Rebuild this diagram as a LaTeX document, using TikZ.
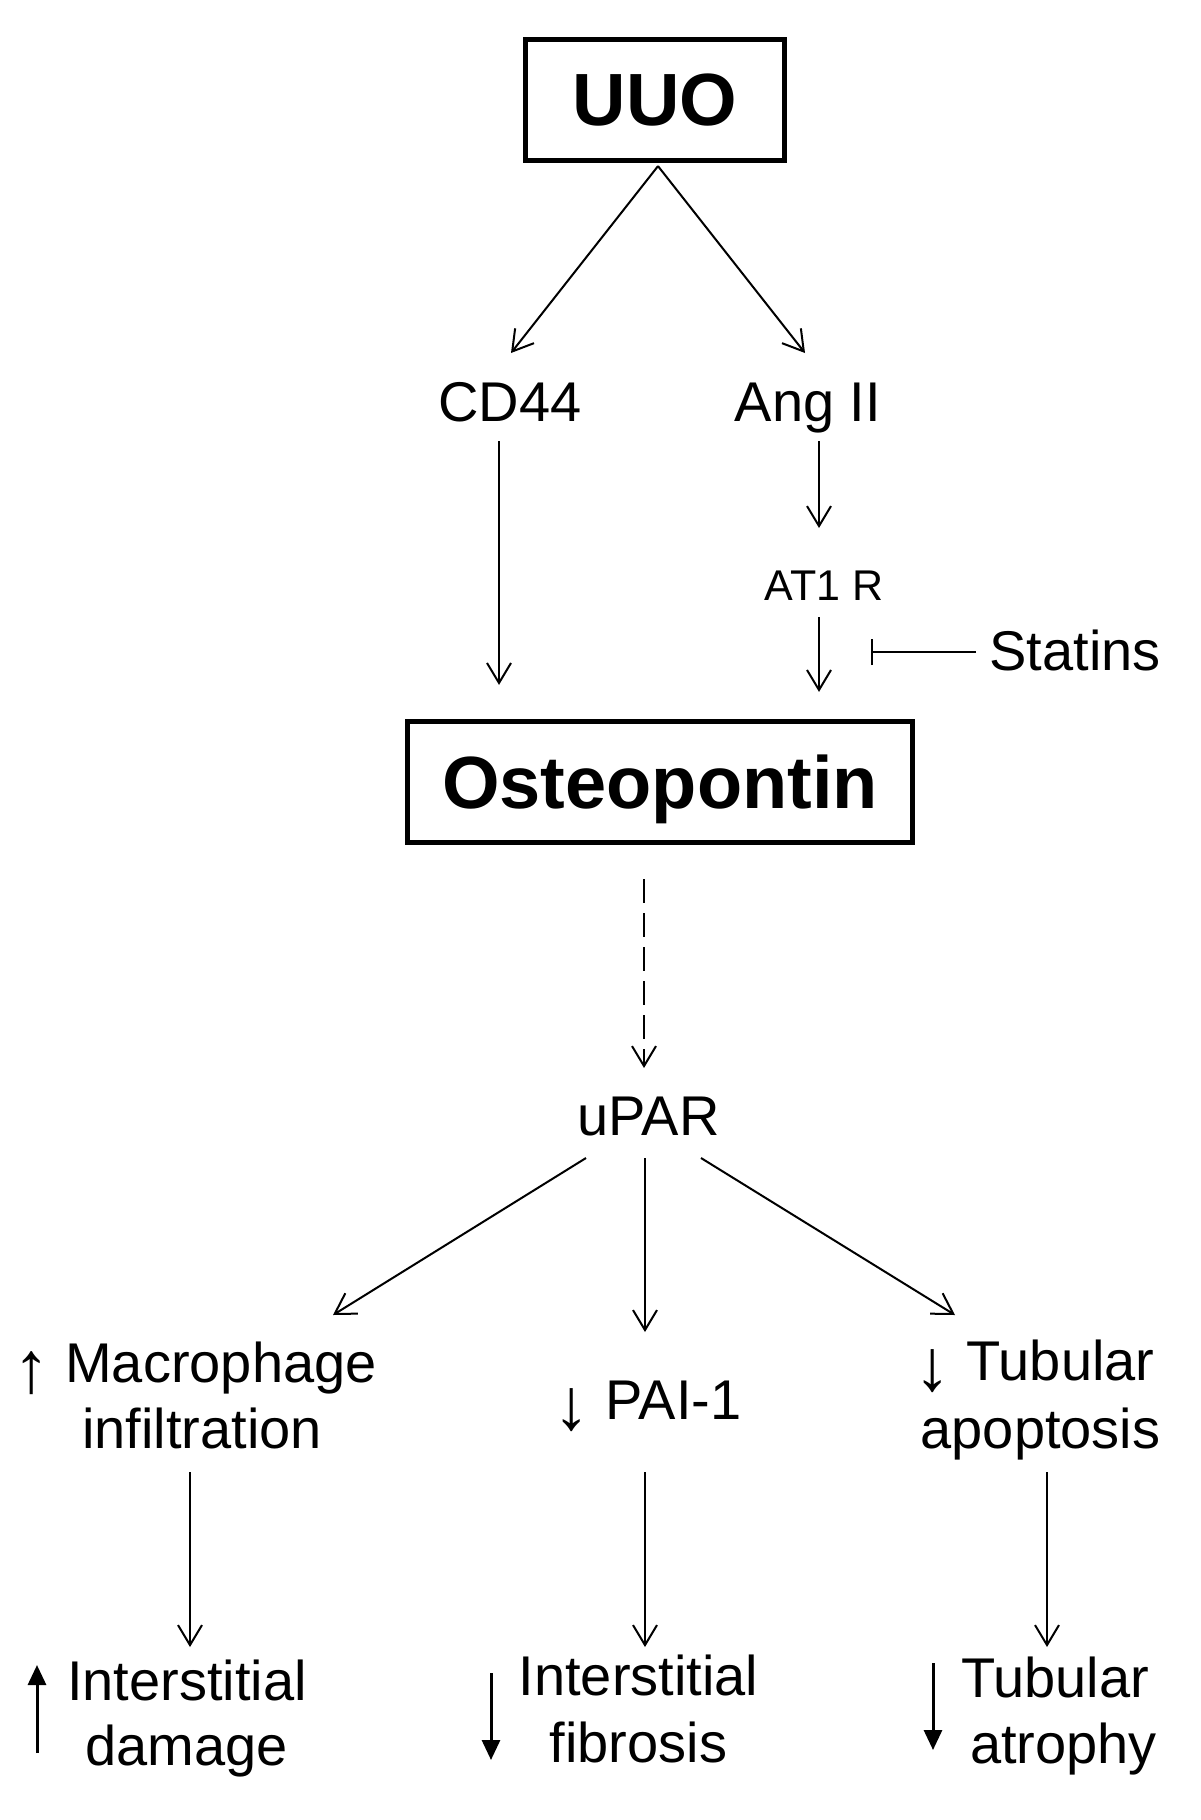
\documentclass[tikz,border=0pt]{standalone}
\usepackage{graphicx}
\usepackage{fontspec}
\setmainfont{Liberation Sans}
\usetikzlibrary{arrows.meta,calc}
\newcommand\myup{\raisebox{-5pt}{\scalebox{1.3}{↑}}}
\newcommand\mydown{\raisebox{-5pt}{\scalebox{1.3}{↓}}}
\begin{document}
\begin{tikzpicture}[x=0.5pt,y=-0.5pt,
  lbl/.style={inner sep=0pt, anchor=base, font=\fontsize{28pt}{32pt}\selectfont},
  lblb/.style={inner sep=0pt, anchor=base, font=\fontsize{28pt}{32pt}\selectfont},
  smalllbl/.style={inner sep=0pt, anchor=base, font=\fontsize{21.5pt}{24pt}\selectfont},
  boxnode/.style={draw, line width=2.6pt, inner sep=0pt, minimum height=60.5pt, text depth=0pt, font=\fontsize{37pt}{40pt}\selectfont\bfseries},
  arr/.style={-{Straight Barb[length=10pt,width=12pt]}, line width=1pt},
  thk/.style={-{Triangle[length=10pt,width=9pt]}, line width=1.5pt},
  inh/.style={-{Bar[width=13pt]}, line width=1pt},
  dsh/.style={arr, dash pattern=on 12pt off 5pt}
]
\useasboundingbox (0,0) rectangle (1200,1820);

% nodes
\node[boxnode, minimum width=129.5pt] (uuo) at (655,100) {UUO};
\node[lbl] (cd44) at (510,421) {CD44};
\node[lbl] (ang) at (808,421) {Ang II};
\node[smalllbl] (at1r) at (824,600) {AT1 R};
\node[lbl] (statins) at (1075,670) {Statins};
\node[boxnode, minimum width=252.5pt] (ost) at (660,782) {Osteopontin};
\node[lbl] (upar) at (648.5,1135) {uPAR};

\node[lblb] (mac1) at (195,1382) {\myup\ Macrophage};
\node[lblb] (mac2) at (202,1448) {infiltration};
\node[lblb] (pai) at (647.5,1419) {\mydown\ PAI-1};
\node[lblb] (tub1) at (1034.5,1380) {\mydown\ Tubular};
\node[lblb] (tub2) at (1040.5,1448) {apoptosis};

\node[lblb] (int1) at (187,1700) {Interstitial};
\node[lblb] (dam) at (186.5,1765) {damage};
\node[lblb] (int2) at (638.5,1695) {Interstitial};
\node[lblb] (fib) at (638.5,1762) {fibrosis};
\node[lblb] (tub3) at (1055,1697) {Tubular};
\node[lblb] (atr) at (1063.5,1763) {atrophy};

% connectors
\draw[arr] ($(uuo.south)+(3,3)$) -- ($(cd44.base)+(1,-68)$);
\draw[arr] ($(uuo.south)+(3,3)$) -- ($(ang.base)+(-3,-68)$);
\draw[arr] ($(cd44.base)+(-11,20)$) -- ($(ost.north)+(-161,-34)$);
\draw[arr] ($(ang.base)+(11,20)$) -- ($(at1r.base)+(-5,-72)$);
\draw[arr] ($(at1r.base)+(-5,17)$) -- ($(ost.north)+(159,-27)$);
\draw[inh] ($(statins.base)+(-99,-18)$) -- ($(statins.base)+(-204,-18)$);
\draw[dsh] ($(ost.south)+(-16,34)$) -- ($(upar.base)+(-4.5,-67)$);

\draw[arr] ($(upar.base)+(-62.5,23)$) -- ($(mac1.base)+(138,-67)$);
\draw[arr] ($(upar.base)+(-3.5,23)$) -- ($(pai.base)+(-2.5,-87)$);
\draw[arr] ($(upar.base)+(52.5,23)$) -- ($(tub1.base)+(-79.5,-65)$);

\draw[arr] ($(mac2.base)+(-12,24)$) -- ($(int1.base)+(3,-53)$);
\draw[arr] ($(pai.base)+(-2.5,53)$) -- ($(int2.base)+(6.5,-48)$);
\draw[arr] ($(tub2.base)+(6.5,24)$) -- ($(tub3.base)+(-8,-50)$);

% level indicators
\draw[thk] ($(int1.base)+(-150,53)$) -- ($(int1.base)+(-150,-35)$);
\draw[thk] ($(int2.base)+(-147.5,-22)$) -- ($(int2.base)+(-147.5,65)$);
\draw[thk] ($(tub3.base)+(-122,-34)$) -- ($(tub3.base)+(-122,53)$);
\end{tikzpicture}
\end{document}
